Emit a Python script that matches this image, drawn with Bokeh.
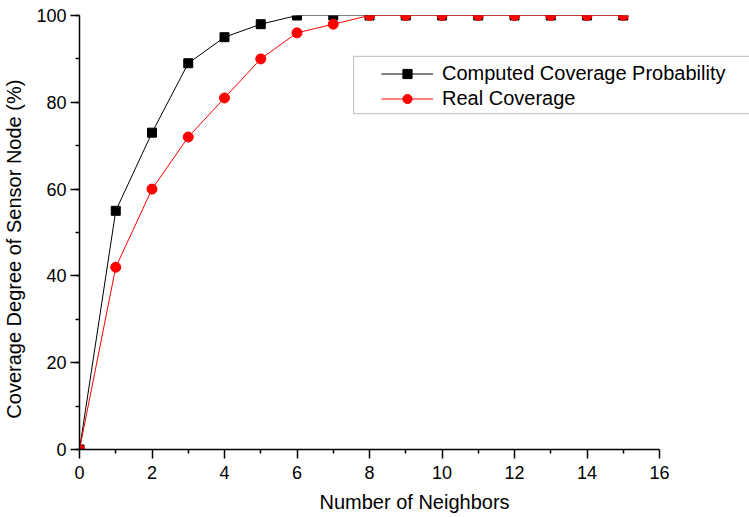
from bokeh.plotting import figure
from bokeh.models import Range1d, Legend, LegendItem, BoxAnnotation
from bokeh.embed import file_html
from bokeh.resources import INLINE

neighbors = [0, 1, 2, 3, 4, 5, 6, 7, 8, 9, 10, 11, 12, 13, 14, 15]
computed = [0, 55, 73, 89, 95, 98, 100, 100, 100, 100, 100, 100, 100, 100, 100, 100]
real = [0, 42, 60, 72, 81, 90, 96, 98, 100, 100, 100, 100, 100, 100, 100, 100]
x_ticks = [0, 2, 4, 6, 8, 10, 12, 14, 16]

FONT = "Liberation Sans"

# frame spans to the right edge of the page; the axis itself stops at 16
p = figure(width=749, height=517, output_backend="svg", toolbar_location=None,
           x_range=Range1d(0, 16 * 670 / 580), y_range=Range1d(0, 100),
           min_border_left=79, min_border_right=0, min_border_top=15, min_border_bottom=68)
p.outline_line_color = None
p.grid.visible = False
p.background_fill_color = "white"
p.border_fill_color = "white"

l1 = p.line(neighbors, computed, line_color="black", line_width=1)
m1 = p.scatter(neighbors, computed, marker="square", size=9, fill_color="black", line_color="black")
l2 = p.line(neighbors, real, line_color="red", line_width=1)
m2 = p.scatter(neighbors, real, marker="circle", size=10, fill_color="red", line_color="red")

for ax in (p.xaxis[0], p.yaxis[0]):
    ax.axis_line_color = "black"
    ax.axis_line_width = 1.5
    ax.major_tick_line_color = "black"
    ax.minor_tick_line_color = "black"
    ax.major_tick_line_width = 1.5
    ax.minor_tick_line_width = 1.5
    ax.major_tick_in = 0
    ax.major_tick_out = 9
    ax.minor_tick_in = 0
    ax.minor_tick_out = 4
    ax.major_label_text_font = FONT
    ax.major_label_text_font_size = "18px"
    ax.major_label_text_color = "black"
    ax.axis_label_text_font = FONT
    ax.axis_label_text_font_size = "20px"
    ax.axis_label_text_font_style = "normal"
    ax.axis_label_text_color = "black"

p.xaxis.bounds = (0, 16)
p.xaxis[0].ticker = x_ticks
p.xaxis[0].ticker.minor_ticks = [1, 3, 5, 7, 9, 11, 13, 15]
p.yaxis[0].ticker.num_minor_ticks = 2
p.xaxis.axis_label = "Number of Neighbors"
p.yaxis.axis_label = "Coverage Degree of Sensor Node (%)" + "\u00a0" * 6
p.xaxis.major_label_standoff = 7
p.yaxis.major_label_standoff = 4
p.xaxis.axis_label_standoff = 9
p.yaxis.axis_label_standoff = 8

box = BoxAnnotation(left=7.56, right=18.8, bottom=77.4, top=90.6,
                    fill_color="white", fill_alpha=1.0,
                    line_color="#444444", line_width=1.2)
p.add_layout(box)

legend = Legend(items=[LegendItem(label="Computed Coverage Probability", renderers=[l1, m1]),
                       LegendItem(label="Real Coverage", renderers=[l2, m2])],
                location=(302, 339))
legend.border_line_color = None
legend.background_fill_alpha = 0
legend.padding = 6
legend.spacing = 2
legend.glyph_width = 52
legend.glyph_height = 23
legend.label_height = 23
legend.label_standoff = 9
legend.label_text_font = FONT
legend.label_text_font_size = "20px"
legend.label_text_color = "black"
legend.margin = 0
p.add_layout(legend)

open("out.html", "w").write(file_html(p, INLINE))
